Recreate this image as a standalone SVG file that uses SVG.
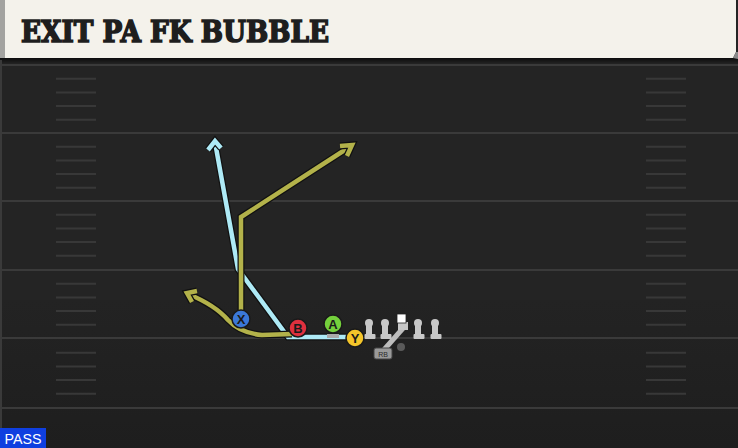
<svg xmlns="http://www.w3.org/2000/svg" width="738" height="448" viewBox="0 0 738 448">
<style>
.yl{stroke:#3a3a3a;stroke-width:2}
.hm{stroke:#383838;stroke-width:2}
.out{fill:none;stroke:#111;stroke-width:7;stroke-linejoin:miter;stroke-linecap:butt}
.blue{fill:none;stroke:#aeeaf6;stroke-width:4.5;stroke-linejoin:miter;stroke-linecap:butt}
.olive{fill:none;stroke:#b3b24a;stroke-width:4.5;stroke-linejoin:miter;stroke-linecap:butt}
.lbl{font-family:"Liberation Sans",Arial,sans-serif;font-weight:bold;font-size:13px;fill:#1a1a1a;text-anchor:middle}
.pc{stroke:#1a1a1a;stroke-width:1.5}
.lm{fill:#c8c8c8}
</style>
<defs>
<g id="hash">
<line class="hm" x1="56" y1="0" x2="96" y2="0"/>
<line class="hm" x1="646" y1="0" x2="686" y2="0"/>
</g>
<g id="hashset">
<use href="#hash" y="13.7"/>
<use href="#hash" y="27.4"/>
<use href="#hash" y="41.1"/>
<use href="#hash" y="54.8"/>
</g>
<g id="lineman">
<circle class="lm" cx="0" cy="0" r="4"/>
<rect class="lm" x="-3" y="0" width="6" height="13"/>
<rect class="lm" x="-4.5" y="11" width="11" height="5" rx="1"/>
</g>
<linearGradient id="sh" x1="0" y1="0" x2="0" y2="1">
<stop offset="0" stop-color="#0c0c0c"/>
<stop offset="1" stop-color="#242424"/>
</linearGradient>
<linearGradient id="bot" x1="0" y1="0" x2="0" y2="1">
<stop offset="0" stop-color="#232323"/>
<stop offset="1" stop-color="#1e1e1e"/>
</linearGradient>
</defs>

<rect width="738" height="448" fill="#242424"/>
<rect x="0" y="300" width="738" height="148" fill="url(#bot)"/>
<rect x="0" y="58" width="738" height="6" fill="url(#sh)"/>
<rect x="0" y="60" width="2" height="388" fill="#3a3a3a"/>

<g id="field">
<line class="yl" x1="0" y1="65" x2="738" y2="65"/>
<line class="yl" x1="0" y1="133" x2="738" y2="133"/>
<line class="yl" x1="0" y1="201" x2="738" y2="201"/>
<line class="yl" x1="0" y1="270" x2="738" y2="270"/>
<line class="yl" x1="0" y1="338" x2="738" y2="338"/>
<line class="yl" x1="0" y1="408" x2="738" y2="408"/>
<use href="#hashset" y="65"/>
<use href="#hashset" y="133"/>
<use href="#hashset" y="201"/>
<use href="#hashset" y="270"/>
<use href="#hashset" y="339"/>
</g>

<g id="header">
<path d="M0 0 H736 V52 L733 58 H0 Z" fill="#f4f2eb"/>
<rect x="0" y="0" width="5" height="58" fill="#a3a3a0"/>
<path d="M733 58 L736 52 L738 52 L738 59 Z" fill="#8a8a8a"/>
<text x="21" y="42" font-family="'DejaVu Serif','Liberation Serif',serif" font-weight="900" font-size="29" fill="#1e1e1e" stroke="#1e1e1e" stroke-width="1.6" stroke-linejoin="miter" textLength="308" lengthAdjust="spacingAndGlyphs">EXIT PA FK BUBBLE</text>
</g>

<g id="connectors">
<polyline class="out" points="350,337 288,337 238,269 215,142"/>
<polyline class="blue" points="350,337 288,337 238,269 215,142"/>
<path class="out" d="M208,150 L215,141 L221,148"/>
<path class="blue" d="M208,150 L215,141 L221,148"/>

<polyline class="out" points="241,319 241,217 351,146"/>
<polyline class="olive" points="241,319 241,217 351,146"/>
<path class="out" d="M340,146 L352,145 L347,156"/>
<path class="olive" d="M340,146 L352,145 L347,156"/>

<path class="out" d="M292,334 L262,335 Q240,333 228,320 Q215,305 188,294"/>
<path class="olive" d="M292,334 L262,335 Q240,333 228,320 Q215,305 188,294"/>
<path class="out" d="M192,302 L187,293 L197,291"/>
<path class="olive" d="M192,302 L187,293 L197,291"/>

<line x1="405" y1="326" x2="382" y2="352" stroke="#bdbdbd" stroke-width="5"/>
</g>

<g id="node-X">
<circle class="pc" cx="241" cy="319" r="9" fill="#3b78d8"/>
<text class="lbl" x="241" y="324">X</text>
</g>
<g id="node-B">
<circle class="pc" cx="298" cy="328" r="9" fill="#e0303e"/>
<text class="lbl" x="298" y="333">B</text>
</g>
<g id="node-A">
<rect x="327" y="334" width="12" height="4" fill="#aaaaaa"/>
<circle class="pc" cx="333" cy="324" r="9" fill="#74d03c"/>
<text class="lbl" x="333" y="329">A</text>
</g>
<g id="node-Y">
<circle class="pc" cx="355" cy="338" r="9" fill="#f4c52a"/>
<text class="lbl" x="355" y="343">Y</text>
</g>
<g id="node-LT"><use href="#lineman" x="369" y="323"/></g>
<g id="node-LG"><use href="#lineman" x="385" y="323"/></g>
<g id="node-C">
<rect x="398" y="322" width="10" height="8" fill="#c8c8c8"/>
<rect x="397" y="314" width="9" height="9" fill="#ffffff" stroke="#222" stroke-width="0.8"/>
</g>
<g id="node-RG"><use href="#lineman" x="418" y="323"/></g>
<g id="node-RT"><use href="#lineman" x="435" y="323"/></g>
<g id="node-QB">
<circle cx="401" cy="347" r="4" fill="#5a5a5a"/>
</g>
<g id="node-RB">
<rect x="374" y="348" width="18" height="11" rx="2" fill="#9a9a9a" stroke="#444" stroke-width="1"/>
<text x="383" y="356.5" font-family="'Liberation Sans',Arial,sans-serif" font-size="7" fill="#2a2a2a" text-anchor="middle">RB</text>
</g>

<g id="pass-tag">
<rect x="0" y="428" width="46" height="20" fill="#0f3fe0"/>
<text x="23" y="444" font-family="'Liberation Sans',Arial,sans-serif" font-size="14" fill="#ffffff" text-anchor="middle" textLength="37" lengthAdjust="spacingAndGlyphs">PASS</text>
</g>
</svg>
